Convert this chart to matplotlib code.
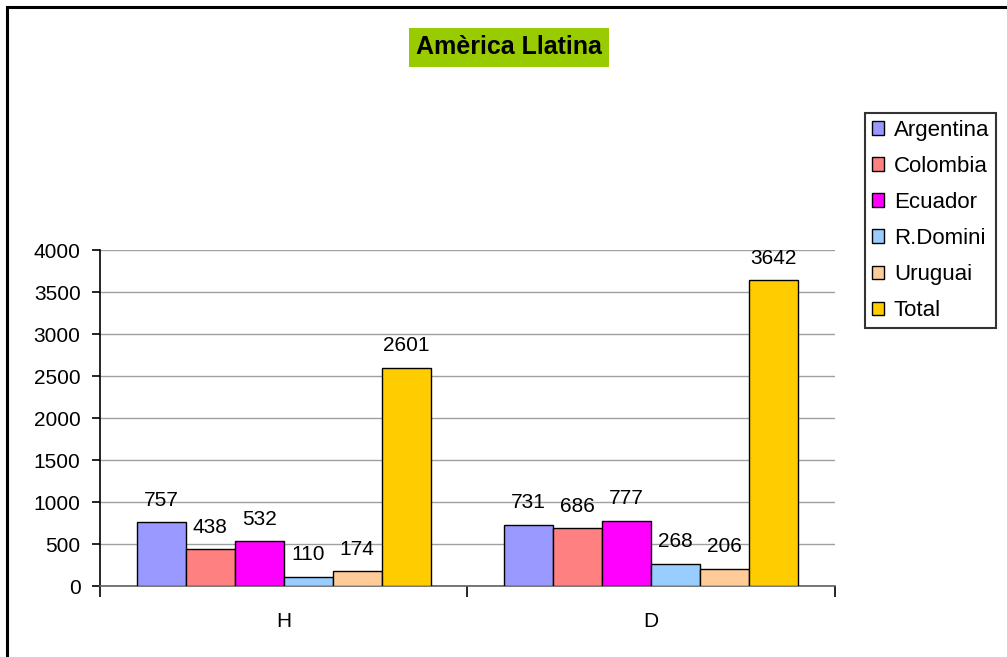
import numpy as np
import matplotlib.pyplot as plt
from matplotlib.patches import Rectangle

plt.rcParams['font.family'] = ['Liberation Sans', 'DejaVu Sans']

categories = ['H', 'D']
series = ['Argentina', 'Colombia', 'Ecuador', 'R.Domini', 'Uruguai', 'Total']
values = {
    'Argentina': [757, 731],
    'Colombia': [438, 686],
    'Ecuador': [532, 777],
    'R.Domini': [110, 268],
    'Uruguai': [174, 206],
    'Total': [2601, 3642],
}
colors = ['#9999FF', '#FF8080', '#FF00FF', '#99CCFF', '#FFCC99', '#FFCC00']

fig = plt.figure(figsize=(10.07, 6.57), dpi=100)
ax = fig.add_axes([0.0993, 0.108, 0.7299, 0.5114])

x = np.arange(len(categories))
w = 0.8 / len(series)
for i, name in enumerate(series):
    pos = x - 0.4 + w * (i + 0.5)
    bars = ax.bar(pos, values[name], w, color=colors[i], edgecolor='black',
                  linewidth=1.0, label=name, zorder=3)
    for b, v in zip(bars, values[name]):
        ax.annotate(str(v), (b.get_x() + b.get_width() / 2, v),
                    xytext=(0, 9), textcoords='offset points',
                    ha='center', va='bottom', fontsize=15)

ax.set_xlim(-0.5, 1.5)
ax.set_ylim(0, 4000)
ax.set_yticks(np.arange(0, 4001, 500))
ax.yaxis.grid(True, color='#a0a0a0', linewidth=1.0, zorder=0)
ax.tick_params(axis='y', labelsize=15, length=6, width=1.2, direction='out', pad=8)
ax.set_xticks(x)
ax.set_xticklabels(categories)
ax.tick_params(axis='x', which='major', length=0, pad=19, labelsize=15)
ax.set_xticks([-0.5, 0.5, 1.5], minor=True)
ax.tick_params(axis='x', which='minor', length=8, width=1.2, direction='out')
for s in ['top', 'right']:
    ax.spines[s].set_visible(False)
ax.spines['left'].set_linewidth(1.2)
ax.spines['bottom'].set_linewidth(1.2)
ax.spines['bottom'].set_color('#606060')

fig.text(0.5055, 0.928, 'Amèrica Llatina', ha='center', va='center',
         fontsize=18, fontweight='bold',
         bbox=dict(boxstyle='square,pad=0.3', facecolor='#99CC00', edgecolor='none'))

leg = fig.legend(loc='upper left', bbox_to_anchor=(0.859, 0.828), fontsize=16,
                 frameon=True, fancybox=False, edgecolor='black',
                 handlelength=0.55, handleheight=0.55, handletextpad=0.45,
                 borderpad=0.3, labelspacing=0.68, borderaxespad=0)
leg.get_frame().set_linewidth(1.5)

fig.patches.append(Rectangle((7 / 1007, -0.05), 1.1, 1 - 7 / 657 + 0.05,
                             transform=fig.transFigure, fill=False,
                             edgecolor='black', linewidth=2.2))

fig.savefig('out.png', dpi=100)
